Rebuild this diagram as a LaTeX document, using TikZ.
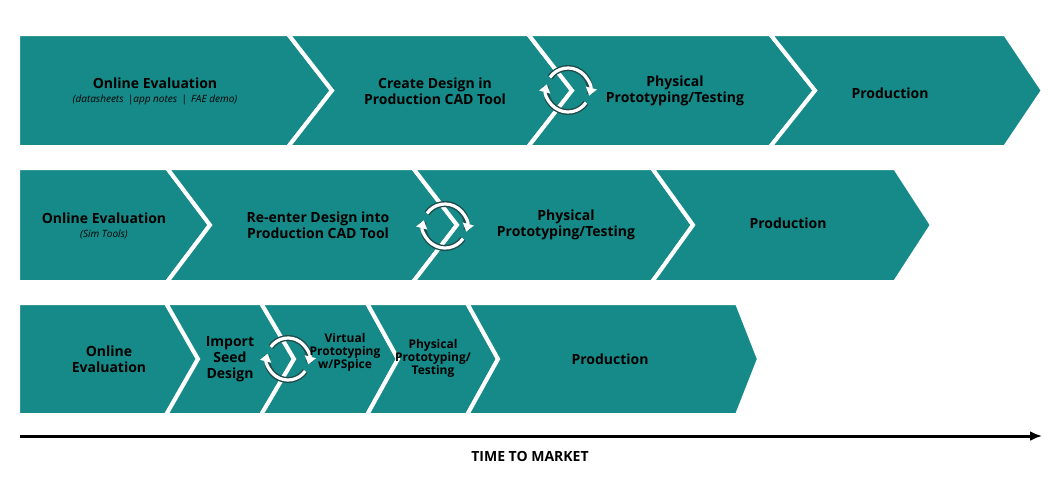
\documentclass[tikz,border=0pt]{standalone}
\usepackage{fontspec}
\setmainfont{Open Sans}
\usetikzlibrary{arrows.meta}
\definecolor{teal1}{HTML}{168A88}
\definecolor{dk}{HTML}{1E4A4A}
\tikzset{
 seg/.style={fill=teal1,draw=white,line width=4pt,line join=miter},
 lbl/.style={font=\fontsize{14}{16}\selectfont\bfseries,align=center,text=black},
 sml/.style={font=\fontsize{12}{13}\selectfont\bfseries,align=center,text=black},
 sub/.style={font=\fontsize{10}{11}\selectfont\itshape,text=black},
}
\newcommand{\cyc}[3]{% x y r
 \begin{scope}[shift={(#1,#2)}]
 \draw[dk,line width=6pt] (35:#3) arc (35:190:#3);
 \draw[dk,line width=6pt] (215:#3) arc (215:370:#3);
 \draw[white,line width=3.2pt,-{Triangle[length=8pt,width=11pt]}] (35:#3) arc (35:195:#3);
 \draw[white,line width=3.2pt,-{Triangle[length=8pt,width=11pt]}] (215:#3) arc (215:375:#3);
 \end{scope}}
\begin{document}
\begin{tikzpicture}[x=1pt,y=-1pt]
\useasboundingbox (0,0) rectangle (1056,480);
% row 1
\def\t{34}\def\m{90.5}\def\b{147}
\draw[seg] (18,\t)--(288,\t)--(332,\m)--(288,\b)--(18,\b)--cycle;
\draw[seg] (288,\t)--(528,\t)--(572,\m)--(528,\b)--(288,\b)--(332,\m)--cycle;
\draw[seg] (528,\t)--(770,\t)--(815,\m)--(770,\b)--(528,\b)--(572,\m)--cycle;
\draw[seg] (770,\t)--(1005,\t)--(1043,\m)--(1005,\b)--(770,\b)--(815,\m)--cycle;
\cyc{568}{90}{22}
\node[lbl] (a1) at (155,83) {Online Evaluation};
\node[sub] (a1s) at (155,100) {(datasheets \,|app notes \,| \,FAE demo)};
\node[lbl] (a2) at (435,91) {Create Design in\\Production CAD Tool};
\node[lbl] (a3) at (675,91) {Physical\\Prototyping/Testing};
\node[lbl] (a4) at (890,93) {Production};
% row 2
\def\t{168}\def\m{225}\def\b{282}
\draw[seg] (18,\t)--(167,\t)--(210,\m)--(167,\b)--(18,\b)--cycle;
\draw[seg] (167,\t)--(413,\t)--(457,\m)--(413,\b)--(167,\b)--(210,\m)--cycle;
\draw[seg] (413,\t)--(652,\t)--(693,\m)--(652,\b)--(413,\b)--(457,\m)--cycle;
\draw[seg] (652,\t)--(895,\t)--(932,\m)--(895,\b)--(652,\b)--(693,\m)--cycle;
\cyc{445}{226}{22}
\node[lbl] (b1) at (104,218) {Online Evaluation};
\node[sub] (b1s) at (104,234) {(Sim Tools)};
\node[lbl] (b2) at (318,225) {Re-enter Design into\\Production CAD Tool};
\node[lbl] (b3) at (566,225) {Physical\\Prototyping/Testing};
\node[lbl] (b4) at (788,223) {Production};
% row 3
\def\t{303}\def\m{359}\def\b{415}
\draw[seg] (18,\t)--(166,\t)--(198,\m)--(166,\b)--(18,\b)--cycle;
\draw[seg] (166,\t)--(261,\t)--(294,\m)--(261,\b)--(166,\b)--(198,\m)--cycle;
\draw[seg] (261,\t)--(367,\t)--(398,\m)--(367,\b)--(261,\b)--(294,\m)--cycle;
\draw[seg] (367,\t)--(467,\t)--(498,\m)--(467,\b)--(367,\b)--(398,\m)--cycle;
\draw[seg] (467,\t)--(737,\t)--(759,\m)--(737,\b)--(467,\b)--(498,\m)--cycle;
\cyc{288}{359}{21}
\node[lbl] (c1) at (109,359) {Online\\Evaluation};
\node[lbl] (c2) at (230,359) {Import\\Seed\\Design};
\node[sml] (c3) at (345,352) {Virtual\\Prototyping\\w/PSpice};
\node[sml] (c4) at (433,358) {Physical\\Prototyping/\\Testing};
\node[lbl] (c5) at (610,359) {Production};
% axis
\coordinate (s) at (20,436); \coordinate (e) at (1042,436);
\draw[line width=3pt,-{Latex[length=12pt,width=10pt]}] (s)--(e);
\node[lbl] (tm) at (530,456) {TIME TO MARKET};
\end{tikzpicture}
\end{document}
